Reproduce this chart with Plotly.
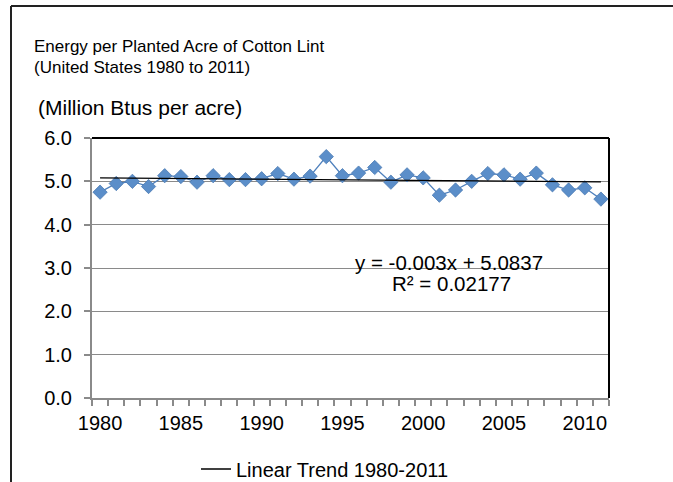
import plotly.graph_objects as go

# ---- data ----
years = list(range(1980, 2012))
energy_per_acre = [
    4.75, 4.95, 5.00, 4.88, 5.13, 5.11, 4.98, 5.13, 5.04, 5.04,
    5.06, 5.18, 5.05, 5.12, 5.57, 5.13, 5.19, 5.32, 4.98, 5.15,
    5.08, 4.68, 4.80, 5.00, 5.18, 5.15, 5.05, 5.19, 4.92, 4.80,
    4.85, 4.59,
]
trend_slope = -0.003
trend_intercept = 5.0837
trend_r2 = 0.02177
x_tick_labels = [1980, 1985, 1990, 1995, 2000, 2005, 2010]

# linear trend as given by the chart's equation (x = 1 .. n)
trend = [trend_intercept + trend_slope * (i + 1) for i in range(len(years))]

W, H = 673, 482
L, R, T, B = 92, 609, 138, 398   # plot area in pixels


def px_x(px):
    return (px - L) / (R - L)


def px_y(py):
    return (B - py) / (B - T)


FONT = "Liberation Sans, Arial, sans-serif"
GRAY = "#8a8a8a"
BLUE = "#4F81BD"

fig = go.Figure()

fig.add_trace(go.Scatter(
    x=years, y=energy_per_acre,
    mode="lines+markers",
    line=dict(color=BLUE, width=1.3),
    marker=dict(symbol="diamond", size=11, color="#5B8EC9",
                line=dict(color="#4A7AB3", width=0.8)),
    showlegend=False,
))

fig.add_trace(go.Scatter(
    x=years, y=trend,
    mode="lines",
    line=dict(color="black", width=1.3),
    name="Linear Trend 1980-2011",
))

fig.update_xaxes(
    range=[1979.5, 2011.5],
    tickvals=x_tick_labels,
    ticks="",
    ticklabelstandoff=6,
    showgrid=False,
    showline=True, linecolor=GRAY, linewidth=2,
    zeroline=False,
    automargin=False,
    tickfont=dict(family=FONT, size=20, color="black"),
    minor=dict(ticks="outside", tick0=1979.5, dtick=1, ticklen=6,
               tickcolor=GRAY, tickwidth=1.5, showgrid=False),
)
fig.update_yaxes(
    range=[0, 6],
    dtick=1,
    tickformat=".1f",
    ticks="outside", ticklen=6, tickcolor=GRAY, tickwidth=1.5,
    ticklabelstandoff=8,
    showgrid=True, gridcolor=GRAY, gridwidth=1.3,
    showline=True, linecolor=GRAY, linewidth=2,
    zeroline=False,
    automargin=False,
    tickfont=dict(family=FONT, size=20, color="black"),
)

shapes = [
    # black plot-area border, top and right
    dict(type="line", xref="paper", yref="paper", x0=0, x1=1, y0=1, y1=1,
         line=dict(color="black", width=2)),
    dict(type="line", xref="paper", yref="paper", x0=1, x1=1, y0=0, y1=1,
         line=dict(color="black", width=2)),
    # chart outer frame (cut by the image on right and bottom)
    dict(type="line", xref="paper", yref="paper",
         x0=px_x(11), x1=px_x(W + 10), y0=px_y(6), y1=px_y(6),
         line=dict(color="#222222", width=2)),
    dict(type="line", xref="paper", yref="paper",
         x0=px_x(11), x1=px_x(11), y0=px_y(6), y1=px_y(H + 10),
         line=dict(color="#222222", width=2)),
]

annotations = [
    dict(text="Energy per Planted Acre of Cotton Lint",
         xref="paper", yref="paper", x=px_x(32), y=px_y(47),
         xanchor="left", yanchor="middle", showarrow=False,
         font=dict(family=FONT, size=17, color="black")),
    dict(text="(United States 1980 to 2011)",
         xref="paper", yref="paper", x=px_x(32), y=px_y(67),
         xanchor="left", yanchor="middle", showarrow=False,
         font=dict(family=FONT, size=17, color="black")),
    dict(text="(Million Btus per acre)",
         xref="paper", yref="paper", x=px_x(36), y=px_y(107),
         xanchor="left", yanchor="middle", showarrow=False,
         font=dict(family=FONT, size=21, color="black")),
    dict(text=f"y = {trend_slope}x + {trend_intercept}",
         xref="paper", yref="paper", x=px_x(449), y=px_y(262),
         xanchor="center", yanchor="middle", showarrow=False,
         font=dict(family=FONT, size=20.5, color="black")),
    dict(text=f"R² = {trend_r2}",
         xref="paper", yref="paper", x=px_x(451), y=px_y(283),
         xanchor="center", yanchor="middle", showarrow=False,
         font=dict(family=FONT, size=20.5, color="black")),
]

fig.update_layout(
    width=W, height=H,
    margin=dict(l=L, r=W - R, t=T, b=H - B),
    paper_bgcolor="white",
    plot_bgcolor="white",
    shapes=shapes,
    annotations=annotations,
    showlegend=True,
    legend=dict(orientation="h", xref="container", yref="container",
                x=196 / W, y=1 - 469 / H,
                xanchor="left", yanchor="middle",
                font=dict(family=FONT, size=20, color="black"),
                bgcolor="rgba(0,0,0,0)"),
)

fig.write_html("out.html", config={"displayModeBar": False},
               post_script="document.body.style.margin='0';")
